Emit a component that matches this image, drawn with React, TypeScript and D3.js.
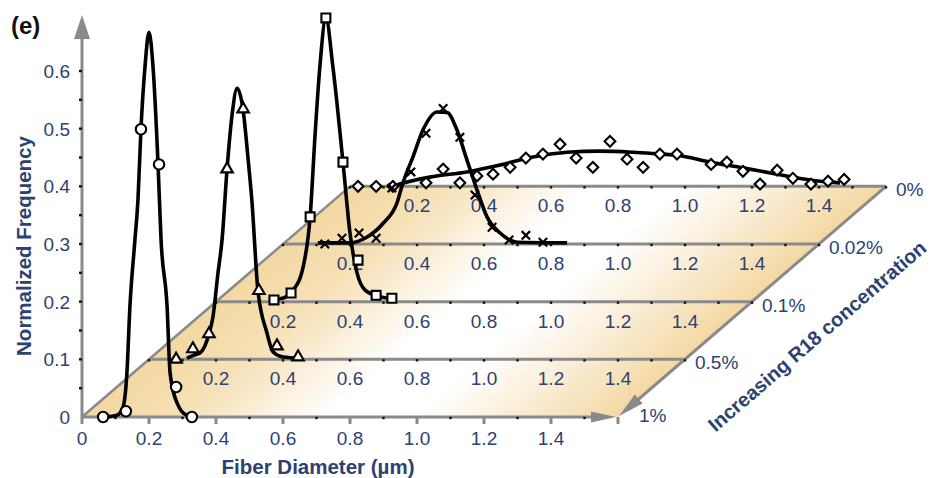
import React from "react";
import * as d3 from "d3";

const W = 933;
const H = 478;

// concentration rows, front (1%) to back (0%)
const concentrations = ["1%", "0.5%", "0.1%", "0.02%", "0%"];
const xTickValues = [0, 0.2, 0.4, 0.6, 0.8, 1.0, 1.2, 1.4];
const yTickValues = [0, 0.1, 0.2, 0.3, 0.4, 0.5, 0.6];

// measured points [diameter (µm), normalized frequency], in each row's own frame
const circles1 = [[0.063, 0], [0.131, 0.01], [0.176, 0.499], [0.23, 0.438], [0.281, 0.052], [0.328, 0]];
const triangles05 = [[0.081, 0], [0.131, 0.018], [0.179, 0.044], [0.233, 0.33], [0.281, 0.434], [0.328, 0.119], [0.382, 0.023], [0.445, 0.004]];
const squares01 = [[0.173, 0.003], [0.224, 0.015], [0.281, 0.147], [0.328, 0.492], [0.379, 0.242], [0.424, 0.072], [0.478, 0.011], [0.525, 0.006]];
const crosses002 = [
  [0.125, 0], [0.176, 0.01], [0.227, 0.019], [0.278, 0.01], [0.325, 0.097], [0.382, 0.125], [0.427, 0.192],
  [0.478, 0.235], [0.528, 0.185], [0.573, 0.085], [0.624, 0.029], [0.675, 0.007], [0.725, 0.015], [0.776, 0.003],
];
const diamonds0 = [
  [0.024, 0], [0.078, 0], [0.128, 0], [0.227, 0.006], [0.278, 0.03], [0.328, 0.006], [0.379, 0.018], [0.427, 0.021],
  [0.478, 0.033], [0.525, 0.049], [0.576, 0.056], [0.627, 0.073], [0.675, 0.049], [0.725, 0.033], [0.776, 0.078],
  [0.827, 0.047], [0.875, 0.033], [0.925, 0.056], [0.976, 0.056], [1.078, 0.038], [1.125, 0.042], [1.173, 0.026],
  [1.224, 0.004], [1.275, 0.028], [1.322, 0.014], [1.376, 0.004], [1.427, 0.009], [1.475, 0.012],
];

// fitted curves
const fit1 = [
  [0.069, 0], [0.104, 0.003], [0.122, 0.016], [0.134, 0.076], [0.143, 0.191], [0.158, 0.307], [0.167, 0.376],
  [0.176, 0.499], [0.188, 0.607], [0.2, 0.667], [0.212, 0.607], [0.227, 0.438], [0.236, 0.307], [0.254, 0.191],
  [0.263, 0.076], [0.284, 0.024], [0.313, 0.003], [0.343, 0],
];
const fit05 = [
  [0.113, 0.002], [0.137, 0.008], [0.152, 0.011], [0.179, 0.044], [0.191, 0.074], [0.206, 0.15], [0.218, 0.207],
  [0.233, 0.33], [0.248, 0.424], [0.263, 0.47], [0.281, 0.432], [0.296, 0.346], [0.307, 0.276], [0.325, 0.12],
  [0.352, 0.046], [0.37, 0.013], [0.4, 0.004], [0.451, 0.002],
];
const fit01 = [
  [0.161, 0.004], [0.191, 0.005], [0.23, 0.02], [0.26, 0.06], [0.281, 0.147], [0.296, 0.292], [0.31, 0.407],
  [0.328, 0.492], [0.349, 0.407], [0.379, 0.242], [0.4, 0.119], [0.421, 0.05], [0.445, 0.02], [0.481, 0.01],
  [0.525, 0.005],
];
const fit002 = [
  [0.104, 0.002], [0.2, 0.002], [0.251, 0.012], [0.299, 0.036], [0.34, 0.071], [0.358, 0.106], [0.388, 0.151],
  [0.418, 0.198], [0.46, 0.229], [0.49, 0.228], [0.519, 0.198], [0.549, 0.146], [0.579, 0.094], [0.609, 0.047],
  [0.648, 0.019], [0.699, 0.003], [0.848, 0.002],
];
const fit0 = [
  [0.128, 0], [0.149, 0.004], [0.239, 0.016], [0.349, 0.025], [0.448, 0.037], [0.546, 0.051], [0.648, 0.059],
  [0.746, 0.061], [0.845, 0.059], [0.925, 0.056], [0.976, 0.054], [1.075, 0.042], [1.173, 0.032], [1.275, 0.021],
  [1.373, 0.011], [1.463, 0.006],
];

const series = [
  { row: 4, shape: "diamond", pts: diamonds0, fit: fit0 },
  { row: 3, shape: "cross", pts: crosses002, fit: fit002 },
  { row: 2, shape: "square", pts: squares01, fit: fit01 },
  { row: 1, shape: "triangle", pts: triangles05, fit: fit05 },
  { row: 0, shape: "circle", pts: circles1, fit: fit1 },
];

const navy = "#2c4270";
const gray = "#8a8a8a";
const tan = "#f4d8a2";
const font = "'Liberation Sans', Arial, sans-serif";
const tickSize = 19;

const x = d3.scaleLinear().domain([0, 1.6]).range([82, 618]);
const y = d3.scaleLinear().domain([0, 0.6]).range([417, 71]);

// each step back in depth moves by 0.2 µm along x and 0.1 along y
const dx = x(0.2) - x(0);
const dy = y(0.1) - y(0);
const nRows = concentrations.length - 1;

const px = (k: number, u: number) => x(u) + k * dx;
const py = (k: number, v: number) => y(v) + k * dy;

const symbolPath = (shape: string) => {
  if (shape === "circle") return d3.symbol(d3.symbolCircle, 85)()!;
  if (shape === "triangle") return d3.symbol(d3.symbolTriangle, 58)()!;
  if (shape === "square") return d3.symbol(d3.symbolSquare, 80)()!;
  if (shape === "diamond") return d3.symbol(d3.symbolSquare, 58)()!;
  return "M-4.2,-4.2L4.2,4.2M-4.2,4.2L4.2,-4.2";
};

const arrowHead = (tx: number, ty: number, fx: number, fy: number, len: number, half: number) => {
  const ang = Math.atan2(ty - fy, tx - fx);
  const bx = tx - len * Math.cos(ang);
  const by = ty - len * Math.sin(ang);
  const nx = -Math.sin(ang) * half;
  const ny = Math.cos(ang) * half;
  return `M${tx},${ty}L${bx + nx},${by + ny}L${bx - nx},${by - ny}Z`;
};

const App = () => {
  const floorW = x(1.6) - x(0);
  const floorH = -nRows * dy;
  const backRight = [px(nRows, 1.6), py(nRows, 0)];
  const frontRight = [x(1.6), y(0)];
  const dotTicks = d3.range(0, 17).map((i) => i / 10);

  const line = (k: number) =>
    d3
      .line<number[]>()
      .x((d) => px(k, d[0]))
      .y((d) => py(k, d[1]))
      .curve(d3.curveMonotoneX);

  return (
    <svg width={W} height={H} style={{ position: "absolute", left: 0, top: 0 }} fontFamily={font}>
      <defs>
        <linearGradient id="floorGrad" x1="0" x2="1" y1="0" y2="0">
          <stop offset="0" stopColor={tan} />
          <stop offset="0.18" stopColor="#f6e0b6" />
          <stop offset="0.45" stopColor="#ffffff" />
          <stop offset="0.62" stopColor="#ffffff" />
          <stop offset="0.82" stopColor="#f9ebd1" />
          <stop offset="1" stopColor={tan} />
        </linearGradient>
      </defs>
      <rect width={W} height={H} fill="#fff" />

      {/* floor, drawn as a rect skewed into the depth plane */}
      <rect
        x={0}
        y={0}
        width={floorW}
        height={floorH}
        fill="url(#floorGrad)"
        transform={`matrix(1,0,${(nRows * dx) / floorH},-1,${x(0)},${y(0)})`}
      />
      <line x1={x(0)} y1={y(0)} x2={px(nRows, 0)} y2={py(nRows, 0)} stroke={gray} strokeWidth={2.5} />
      <line x1={backRight[0]} y1={backRight[1]} x2={frontRight[0] + 8} y2={frontRight[1] - 7} stroke={gray} strokeWidth={3} />
      <path d={arrowHead(frontRight[0] + 1, frontRight[1] - 1, backRight[0], backRight[1], 26, 6)} fill={gray} />

      {/* row lines */}
      {d3.range(1, nRows + 1).map((k) => (
        <g key={k}>
          <line x1={px(k, 0)} y1={py(k, 0)} x2={px(k, 1.6)} y2={py(k, 0)} stroke={gray} strokeWidth={3} />
          {dotTicks.map((t) => (
            <rect key={t} x={px(k, t) - 1.2} y={py(k, 0) - 0.2} width={2.4} height={2.4} fill="#111" />
          ))}
          {xTickValues.slice(1).map((t) => (
            <text key={t} x={px(k, t)} y={py(k, 0) + 26} textAnchor="middle" fontSize={tickSize} fill={navy}>
              {t.toFixed(1)}
            </text>
          ))}
        </g>
      ))}

      {/* bottom axis */}
      <line x1={x(0)} y1={y(0)} x2={x(1.6) - 20} y2={y(0)} stroke={gray} strokeWidth={3} />
      <path d={arrowHead(x(1.6) - 2, y(0), x(0), y(0), 25, 5.5)} fill={gray} />
      {d3.range(0, 9).map((i) => (
        <rect key={i} x={x(i * 0.2) - 1.5} y={y(0)} width={3} height={7} fill={gray} />
      ))}
      {d3.range(0, 8).map((i) => (
        <rect key={i} x={x(i * 0.2 + 0.1) - 1.2} y={y(0) - 0.2} width={2.4} height={2.4} fill="#111" />
      ))}
      {xTickValues.map((t) => (
        <text key={t} x={x(t)} y={y(0) + 28} textAnchor="middle" fontSize={tickSize} fill={navy}>
          {t === 0 ? "0" : t.toFixed(1)}
        </text>
      ))}

      {/* y axis */}
      <line x1={x(0)} y1={y(0)} x2={x(0)} y2={36} stroke={gray} strokeWidth={3} />
      <path d={arrowHead(x(0), 15, x(0), y(0), 24, 8)} fill={gray} />
      {d3.range(1, 13).map((i) => (
        <rect key={i} x={x(0) - 3} y={y(i * 0.05) - 1.2} width={3} height={2.4} fill="#111" />
      ))}
      {yTickValues.map((t) => (
        <text key={t} x={70} y={y(t) + 7} textAnchor="end" fontSize={tickSize} fill={navy}>
          {t === 0 ? "0" : t.toFixed(1)}
        </text>
      ))}

      {/* concentration labels */}
      {concentrations.map((c, k) => (
        <text
          key={c}
          x={px(k, 1.6) + (k === 0 ? 21 : 10)}
          y={py(k, 0) + (k === 0 ? 5 : 10)}
          fontSize={tickSize}
          fill={navy}
        >
          {c}
        </text>
      ))}

      {/* curves and markers, back to front */}
      {series.map((s) => (
        <g key={s.row}>
          <path d={line(s.row)(s.fit) || ""} fill="none" stroke="#000" strokeWidth={3.6} strokeLinejoin="round" />
          {s.pts.map((p, i) => (
            <path
              key={i}
              d={symbolPath(s.shape)}
              transform={`translate(${px(s.row, p[0])},${py(s.row, p[1])})${s.shape === "diamond" ? " rotate(45)" : ""}`}
              fill={s.shape === "cross" ? "none" : "#fff"}
              stroke="#000"
              strokeWidth={s.shape === "cross" ? 2.2 : 2.1}
            />
          ))}
        </g>
      ))}

      {/* titles */}
      <text x={11} y={34} fontSize={24} fontWeight="bold" fill="#111">
        (e)
      </text>
      <text
        transform={`translate(31,${y(0.3) + 2}) rotate(-90)`}
        textAnchor="middle"
        fontSize={20.5}
        fontWeight="bold"
        fill={navy}
      >
        Normalized Frequency
      </text>
      <text x={318} y={474} textAnchor="middle" fontSize={20.5} fontWeight="bold" fill={navy}>
        Fiber Diameter (µm)
      </text>
      <text
        transform={`translate(817,336) rotate(${(Math.atan2(dy, dx) * 180) / Math.PI})`}
        textAnchor="middle"
        dy="0.35em"
        fontSize={20}
        fontWeight="bold"
        fill={navy}
      >
        Increasing R18 concentration
      </text>
    </svg>
  );
};

export default App;
